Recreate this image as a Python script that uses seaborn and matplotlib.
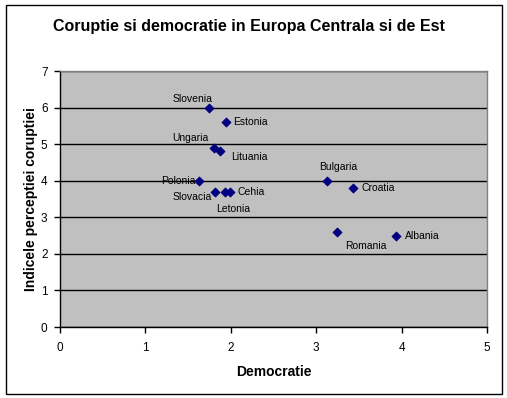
import matplotlib
matplotlib.use("Agg")
import matplotlib.pyplot as plt
import seaborn as sns
import pandas as pd
from matplotlib.patches import Rectangle

countries = ["Slovenia", "Estonia", "Ungaria", "Lituania", "Polonia", "Slovacia",
             "Letonia", "Cehia", "Bulgaria", "Croatia", "Romania", "Albania"]
democratie = [1.75, 1.94, 1.80, 1.87, 1.63, 1.81, 1.93, 1.99, 3.13, 3.43, 3.24, 3.93]
coruptie = [6.0, 5.6, 4.9, 4.8, 4.0, 3.7, 3.7, 3.7, 4.0, 3.8, 2.6, 2.5]
x_ticks = [0, 1, 2, 3, 4, 5]
y_ticks = [0, 1, 2, 3, 4, 5, 6, 7]

# label offsets in pixels (dx, dy) and horizontal alignment
label_pos = {
    "Slovenia": (-17, 9, "center"),
    "Estonia": (7, 0, "left"),
    "Ungaria": (-23, 10, "center"),
    "Lituania": (30, -6, "center"),
    "Polonia": (-4, 0, "right"),
    "Slovacia": (-22, -5, "center"),
    "Letonia": (8, -17, "center"),
    "Cehia": (8, 0, "left"),
    "Bulgaria": (11, 14, "center"),
    "Croatia": (9, 0, "left"),
    "Romania": (29, -14, "center"),
    "Albania": (9, 0, "left"),
}

df = pd.DataFrame({"Tara": countries, "Democratie": democratie, "Coruptie": coruptie})

sns.set_style("white")
plt.rcParams["font.family"] = ["Liberation Sans", "DejaVu Sans"]
plt.rcParams["text.color"] = "black"
plt.rcParams["axes.labelcolor"] = "black"
plt.rcParams["xtick.color"] = "black"
plt.rcParams["ytick.color"] = "black"

fig = plt.figure(figsize=(5.07, 3.98), dpi=100)
ax = fig.add_axes([60 / 507, 1 - 327 / 398, 427 / 507, 256 / 398])
ax.set_facecolor("#C0C0C0")

sns.scatterplot(data=df, x="Democratie", y="Coruptie", ax=ax, marker="D",
                color="#000080", s=22, edgecolor="#000080", linewidth=0.5, zorder=3)

for name, xv, yv in zip(countries, democratie, coruptie):
    dx, dy, ha = label_pos[name]
    ax.annotate(name, (xv, yv), xytext=(dx, dy), textcoords="offset pixels",
                ha=ha, va="center", fontsize=7.5, color="black", zorder=4)

ax.set_xlim(0, 5)
ax.set_ylim(0, 7)
ax.set_xticks(x_ticks)
ax.set_yticks(y_ticks)
ax.yaxis.grid(True, color="black", linewidth=1)
ax.set_axisbelow(True)
for s in ["top", "right"]:
    ax.spines[s].set_color("#808080")
    ax.spines[s].set_linewidth(1)
for s in ["left", "bottom"]:
    ax.spines[s].set_color("black")
    ax.spines[s].set_linewidth(1)
ax.tick_params(axis="both", direction="out", length=4, width=1, color="black",
               labelsize=8.5, left=True, bottom=True, labelcolor="black")
ax.tick_params(axis="x", pad=7)
ax.tick_params(axis="y", pad=5)

ax.set_xlabel("Democratie", fontsize=10, fontweight="bold", labelpad=8, color="black")
ax.set_ylabel("Indicele perceptiei coruptiei", fontsize=10, fontweight="bold",
              labelpad=2, color="black")

fig.text(249 / 507, 1 - 27 / 398, "Coruptie si democratie in Europa Centrala si de Est",
         ha="center", va="center", fontsize=11.5, fontweight="bold", color="black")

fig.patches.append(Rectangle((5.5 / 507, 1 - 394 / 398), 496.5 / 507, 389 / 398,
                             transform=fig.transFigure, fill=False,
                             edgecolor="black", linewidth=1))

fig.savefig("out.png", dpi=100)
